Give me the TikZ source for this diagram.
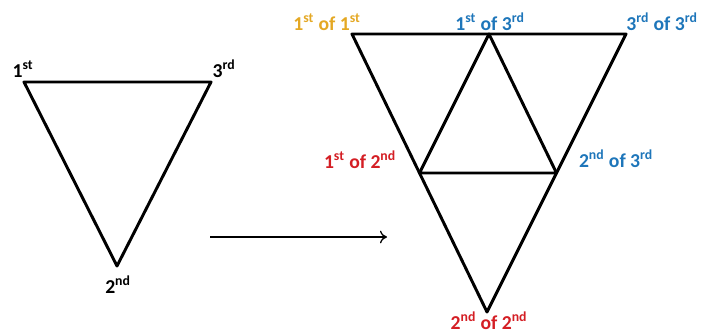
\documentclass[tikz,border=0pt]{standalone}
\usepackage{fontspec}
\setmainfont{Carlito}
\usetikzlibrary{calc,arrows.meta}

\definecolor{lblorange}{RGB}{228,168,36}
\definecolor{lblblue}{RGB}{30,118,186}
\definecolor{lblred}{RGB}{212,30,36}

\newcommand{\ordsup}[2]{#1\textsuperscript{#2}}

\begin{document}
\begin{tikzpicture}[x=0.25mm, y=-0.25mm, line join=round,
        tri/.style={line width=2.1pt},
        lbl/.style={font=\fontsize{14}{16}\selectfont\bfseries, inner sep=0pt, anchor=base}]
        \useasboundingbox (0,0) rectangle (704,334);

        % left triangle
        \coordinate (first) at (24,82);
        \coordinate (third) at (211,82);
        \coordinate (second) at (117,266);
        \draw[tri] (first) -- (third) -- (second) -- cycle;

        \node[lbl] (first_lbl) at (23,77) {\ordsup{1}{st}};
        \node[lbl] (third_lbl) at (224,77) {\ordsup{3}{rd}};
        \node[lbl] (second_lbl) at (118,293) {\ordsup{2}{nd}};

        % arrow
        \coordinate (arr_start) at (210,237);
        \coordinate (arr_end) at (387,237);
        \draw[line width=0.9pt, -{To[length=5pt,width=9pt]}] (arr_start) -- (arr_end);

        % right triangle, split in four
        \coordinate (oo) at (352,34);
        \coordinate (tt) at (626,34);
        \coordinate (ss) at (487,312);
        \coordinate (ot) at ($(oo)!0.5!(tt)$);
        \coordinate (os) at ($(oo)!0.5!(ss)$);
        \coordinate (st) at ($(tt)!0.5!(ss)$);
        \draw[tri] (oo) -- (tt) -- (ss) -- cycle;
        \draw[tri] (ot) -- (os) -- (st) -- cycle;

        % labels
        \node[lbl, text=lblorange] (oo_lbl) at (327,30) {\ordsup{1}{st} of \ordsup{1}{st}};
        \node[lbl, text=lblblue] (ot_lbl) at (490,30) {\ordsup{1}{st} of \ordsup{3}{rd}};
        \node[lbl, text=lblblue] (tt_lbl) at (662,30) {\ordsup{3}{rd} of \ordsup{3}{rd}};
        \node[lbl, text=lblred] (os_lbl) at (360,168) {\ordsup{1}{st} of \ordsup{2}{nd}};
        \node[lbl, text=lblblue] (st_lbl) at (616,167) {\ordsup{2}{nd} of \ordsup{3}{rd}};
        \node[lbl, text=lblred] (ss_lbl) at (489,329) {\ordsup{2}{nd} of \ordsup{2}{nd}};
    \end{tikzpicture}
\end{document}
